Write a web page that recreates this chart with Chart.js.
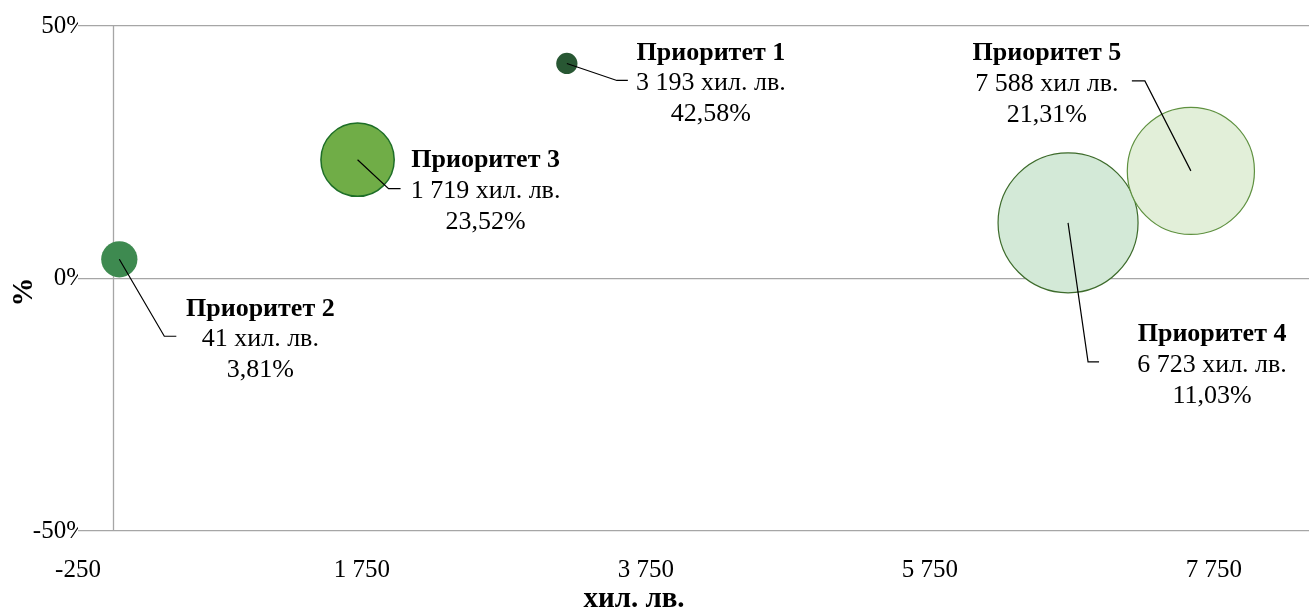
<!DOCTYPE html>
<html>
<head>
<meta charset="utf-8">
<script src="https://cdn.jsdelivr.net/npm/chart.js@4.4.1/dist/chart.umd.min.js"></script>
<style>
  html, body { margin: 0; padding: 0; background: #fff; }
  #wrap { width: 1309px; height: 609px; }
</style>
</head>
<body>
<div id="wrap"><canvas id="priorities"></canvas></div>
<script>
// Data
const names = ['Приоритет 1', 'Приоритет 2', 'Приоритет 3', 'Приоритет 4', 'Приоритет 5'];
const amounts = [3193, 41, 1719, 6723, 7588];        // хил. лв.
const shares = [42.58, 3.81, 23.52, 11.03, 21.31];   // %
const bubbleSize = [23, 67, 274, 1000, 825];         // relative bubble size
const units = ['хил. лв.', 'хил. лв.', 'хил. лв.', 'хил. лв.', 'хил лв.'];
const xTicks = [-250, 1750, 3750, 5750, 7750];
const yTicks = [-50, 0, 50];

// Styles
const fills = ['#285733', '#3e8a50', '#70ad47', '#d3e9d7', '#e2efd9'];
const borders = ['#285733', '#3e8a50', '#1d6e27', '#3d6b2b', '#5f9140'];
const borderW = [0, 0, 1.5, 1.2, 1.2];
const maxRadius = 70;
const serif = '"Liberation Serif", "Times New Roman", serif';

// label placement relative to the bubble centre:
// text centre / baseline of 2nd line, end of leader, x of the leader elbow
const labelPos = [
  { dx: 144, dy: 27, lx: 61, ly: 17, ex: 50 },
  { dx: 141, dy: 87, lx: 57, ly: 77, ex: 45 },
  { dx: 128, dy: 38, lx: 43, ly: 29, ex: 31 },
  { dx: 144, dy: 149, lx: 31, ly: 139, ex: 20 },
  { dx: -144, dy: -80, lx: -59, ly: -90, ex: -46 },
];

const fmt = (v) => (v < 0 ? '-' : '') + String(Math.abs(v)).replace(/\B(?=(\d{3})+(?!\d))/g, ' ');
const maxSize = Math.max(...bubbleSize);

// y axis crosses the x axis at 0
const crossAxis = {
  id: 'crossAxis',
  beforeDatasetsDraw(chart) {
    const { ctx, chartArea, scales } = chart;
    const x = Math.round(scales.x.getPixelForValue(0)) + 0.5;
    ctx.save();
    ctx.strokeStyle = '#a6a6a6';
    ctx.lineWidth = 1.3;
    ctx.beginPath();
    ctx.moveTo(x, chartArea.top);
    ctx.lineTo(x, chartArea.bottom);
    ctx.stroke();
    ctx.restore();
  },
};

// data labels with leader lines
const bubbleLabels = {
  id: 'bubbleLabels',
  afterDatasetsDraw(chart) {
    const { ctx } = chart;
    const meta = chart.getDatasetMeta(0);
    ctx.save();
    meta.data.forEach((pt, i) => {
      const p = labelPos[i];
      ctx.strokeStyle = '#000';
      ctx.lineWidth = 1.2;
      ctx.beginPath();
      ctx.moveTo(pt.x, pt.y);
      ctx.lineTo(pt.x + p.ex, pt.y + p.ly);
      ctx.lineTo(pt.x + p.lx, pt.y + p.ly);
      ctx.stroke();

      const cx = pt.x + p.dx;
      const base = pt.y + p.dy;
      ctx.fillStyle = '#000';
      ctx.textAlign = 'center';
      ctx.textBaseline = 'alphabetic';
      ctx.font = 'bold 26px ' + serif;
      ctx.fillText(names[i], cx, base - 30.5);
      ctx.font = '26px ' + serif;
      ctx.fillText(fmt(amounts[i]) + ' ' + units[i], cx, base);
      ctx.fillText(shares[i].toFixed(2).replace('.', ',') + '%', cx, base + 31);
    });
    ctx.restore();
  },
};

// axis titles
const axisTitles = {
  id: 'axisTitles',
  afterDraw(chart) {
    const { ctx } = chart;
    ctx.save();
    ctx.fillStyle = '#000';
    ctx.font = 'bold 29px ' + serif;
    ctx.textAlign = 'center';
    ctx.textBaseline = 'alphabetic';
    ctx.fillText('хил. лв.', 634, 607);
    ctx.translate(25, 292);
    ctx.rotate(-Math.PI / 2);
    ctx.textBaseline = 'middle';
    ctx.fillText('%', 0, 0);
    ctx.restore();
  },
};

const ctx = document.getElementById('priorities');

const chart = new Chart(ctx, {
  type: 'bubble',
  data: {
    datasets: [
      {
        label: 'Приоритети',
        data: amounts.map((a, i) => ({ x: a, y: shares[i], s: bubbleSize[i] })),
        backgroundColor: fills,
        borderColor: borders,
        borderWidth: borderW,
        radius: (c) => maxRadius * Math.sqrt(bubbleSize[c.dataIndex] / maxSize),
        hoverRadius: 0,
        clip: false,
      },
    ],
  },
  options: {
    responsive: true,
    maintainAspectRatio: false,
    animation: false,
    layout: {
      autoPadding: false,
      padding: { top: 26, right: 0, bottom: 0, left: 0 },
    },
    scales: {
      x: {
        type: 'linear',
        min: -250,
        max: 8420,
        afterBuildTicks: (scale) => { scale.ticks = xTicks.map(v => ({ value: v })); },
        afterFit: (scale) => { scale.height = 78; },
        grid: { display: false },
        border: { display: false },
        ticks: {
          color: '#000',
          font: { family: serif, size: 25 },
          padding: 16,
          maxRotation: 0,
          autoSkip: false,
          callback: (v) => fmt(v),
        },
      },
      y: {
        type: 'linear',
        min: -50,
        max: 50,
        afterBuildTicks: (scale) => { scale.ticks = yTicks.map(v => ({ value: v })); },
        afterFit: (scale) => { scale.width = 78; },
        grid: { color: '#a6a6a6', lineWidth: 1.3, drawTicks: false },
        border: { display: false },
        ticks: {
          color: '#000',
          font: { family: serif, size: 25 },
          padding: -9,
          showLabelBackdrop: true,
          backdropColor: '#fff',
          backdropPadding: { top: 0, bottom: 0, left: 0, right: 1 },
          callback: (v) => v + '%',
        },
      },
    },
    plugins: {
      legend: { display: false },
      tooltip: { enabled: false },
    },
  },
  plugins: [crossAxis, bubbleLabels, axisTitles],
});
</script>
</body>
</html>
